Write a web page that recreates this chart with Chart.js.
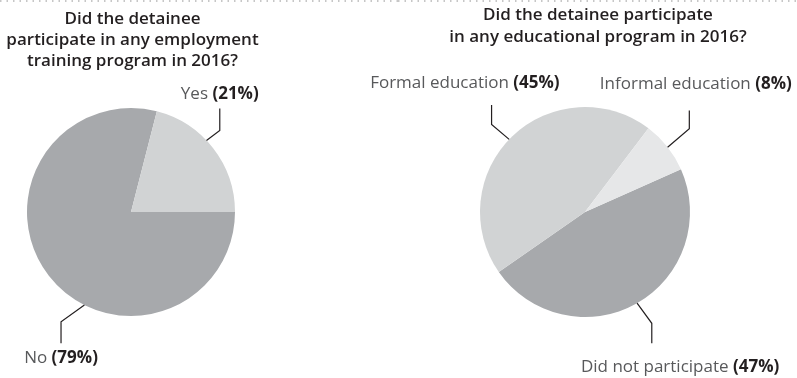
<!DOCTYPE html>
<html>
<head>
<meta charset="utf-8">
<script src="https://cdn.jsdelivr.net/npm/chart.js@4.4.1/dist/chart.umd.min.js"></script>
<style>
    body { margin: 0; background: #fff; }
    #wrap { position: relative; width: 797px; height: 378px; }
    canvas { position: absolute; top: 0; }
</style>
</head>
<body>
<div id="wrap">
    <canvas id="trainingChart" width="398" height="378" style="left:0"></canvas>
    <canvas id="educationChart" width="497" height="378" style="left:300px"></canvas>
</div>
<script>
// Data
const trainingTitle = ['Did the detainee', 'participate in any employment', 'training program in 2016?'];
const trainingLabels = ['No', 'Yes'];
const trainingShares = [79, 21];

const educationTitle = ['Did the detainee participate', 'in any educational program in 2016?'];
const educationLabels = ['Did not participate', 'Formal education', 'Informal education'];
const educationShares = [47, 45, 8];

const FONT = '"Open Sans", "DejaVu Sans", sans-serif';
const INK = '#231f20';

// Draws the dotted rule, the title and the callout labels with leader lines
const calloutPlugin = {
    id: 'callouts',
    afterDraw(chart, args, opts) {
        const ctx = chart.ctx;
        ctx.save();

        // dotted rule along the top
        ctx.strokeStyle = '#b5b5b5';
        ctx.lineWidth = 1.5;
        ctx.setLineDash([1.5, 5]);
        ctx.beginPath();
        ctx.moveTo(opts.ruleFrom, 1);
        ctx.lineTo(chart.width, 1);
        ctx.stroke();
        ctx.setLineDash([]);

        // title
        ctx.fillStyle = INK;
        ctx.font = '600 17px ' + FONT;
        ctx.textAlign = 'center';
        ctx.textBaseline = 'middle';
        opts.title.forEach((line, i) => {
            ctx.fillText(line, opts.titleX, opts.titleY + i * opts.titleLine);
        });

        // callouts
        const meta = chart.getDatasetMeta(0);
        const values = chart.data.datasets[0].data;
        ctx.textAlign = 'left';
        opts.items.forEach((it, i) => {
            const arc = meta.data[i];
            const a = arc.startAngle + it.frac * (arc.endAngle - arc.startAngle);
            const x0 = arc.x + arc.outerRadius * Math.cos(a);
            const y0 = arc.y + arc.outerRadius * Math.sin(a);
            const x1 = x0 + it.elbow[0];
            const y1 = y0 + it.elbow[1];
            const y2 = y1 + (it.elbow[1] > 0 ? it.lead : -it.lead);

            ctx.strokeStyle = INK;
            ctx.lineWidth = 1.2;
            ctx.beginPath();
            ctx.moveTo(x0, y0);
            ctx.lineTo(x1, y1);
            ctx.lineTo(x1, y2);
            ctx.stroke();

            const name = chart.data.labels[i] + ' ';
            const pct = '(' + values[i] + '%)';
            ctx.font = '400 17px ' + FONT;
            const w1 = ctx.measureText(name).width;
            ctx.font = '700 17px ' + FONT;
            const w2 = ctx.measureText(pct).width;
            const cx = x1 + it.text[0];
            const cy = y2 + it.text[1];
            const left = cx - (w1 + w2) / 2;
            ctx.font = '400 17px ' + FONT;
            ctx.fillStyle = '#58595b';
            ctx.fillText(name, left, cy);
            ctx.font = '700 17px ' + FONT;
            ctx.fillStyle = INK;
            ctx.fillText(pct, left + w1, cy);
        });
        ctx.restore();
    }
};

// Employment training pie
const trainingCtx = document.getElementById('trainingChart').getContext('2d');
const trainingChart = new Chart(trainingCtx, {
    type: 'pie',
    data: {
        labels: trainingLabels,
        datasets: [{
            data: trainingShares,
            backgroundColor: ['#a7a9ac', '#d1d3d4'],
            borderWidth: 0
        }]
    },
    options: {
        responsive: false,
        animation: false,
        rotation: 90,
        layout: { padding: { left: 0, right: 136, top: 108, bottom: 62 } },
        plugins: {
            legend: { display: false },
            tooltip: { enabled: false },
            callouts: {
                ruleFrom: 0,
                title: trainingTitle,
                titleX: 132.5,
                titleY: 19,
                titleLine: 21,
                items: [
                    { frac: 0.41, elbow: [-23.4, 16.7], lead: 21.6, text: [0, 14.5] },
                    { frac: 0.425, elbow: [13.3, -10], lead: 22, text: [0, -14.4] }
                ]
            }
        }
    },
    plugins: [calloutPlugin]
});

// Educational program pie
const educationCtx = document.getElementById('educationChart').getContext('2d');
const educationChart = new Chart(educationCtx, {
    type: 'pie',
    data: {
        labels: educationLabels,
        datasets: [{
            data: educationShares,
            backgroundColor: ['#a7a9ac', '#d1d3d4', '#e6e7e8'],
            borderWidth: 0
        }]
    },
    options: {
        responsive: false,
        animation: false,
        rotation: 66,
        layout: { padding: { left: 180, right: 107, top: 107, bottom: 61 } },
        plugins: {
            legend: { display: false },
            tooltip: { enabled: false },
            callouts: {
                ruleFrom: 98,
                title: educationTitle,
                titleX: 298,
                titleY: 15,
                titleLine: 22,
                items: [
                    { frac: 0.498, elbow: [14.7, 20.1], lead: 20, text: [28.3, 24] },
                    { frac: 0.485, elbow: [-17.6, -15], lead: 19.3, text: [-26.7, -22] },
                    { frac: 0.51, elbow: [21.7, -18.4], lead: 18.3, text: [6.5, -26] }
                ]
            }
        }
    },
    plugins: [calloutPlugin]
});
</script>
</body>
</html>
